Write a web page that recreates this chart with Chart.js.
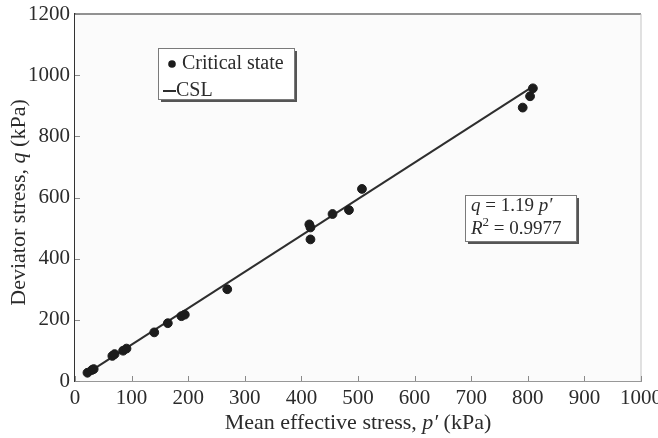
<!DOCTYPE html>
<html>
<head>
<meta charset="utf-8">
<script src="https://cdn.jsdelivr.net/npm/chart.js@4.4.1/dist/chart.umd.min.js"></script>
<style>
  html, body { margin: 0; padding: 0; background: #ffffff; }
  #wrap { width: 658px; height: 438px; position: relative; }
</style>
</head>
<body>
<div id="wrap"><canvas id="c" width="658" height="438"></canvas></div>
<script>
// Critical-state test points: mean effective stress p' and deviator stress q (kPa)
const meanStress = [22, 30, 33, 66, 70, 85, 91, 140, 164, 188, 194, 269, 414, 416, 416, 455, 484, 507, 791, 804, 809];
const deviatorStress = [27, 36, 39, 82, 88, 99, 106, 159, 189, 212, 217, 300, 512, 502, 463, 546, 559, 628, 894, 931, 957];

// Critical state line q = M p'
const cslSlope = 1.19;
const cslR2 = 0.9977;
const cslExtent = [17, 810];

const xTicks = [0, 100, 200, 300, 400, 500, 600, 700, 800, 900, 1000];
const yTicks = [0, 200, 400, 600, 800, 1000, 1200];

const seriesNames = ['Critical state', 'CSL'];

const SERIF = '"Liberation Serif", "DejaVu Serif", serif';
const INK = '#2b2b2b';

const pointData = meanStress.map((p, i) => ({ x: p, y: deviatorStress[i] }));
const lineData = cslExtent.map(p => ({ x: p, y: cslSlope * p }));

// Frame, inward tick marks, axis titles, legend and fit annotation
const decorations = {
  id: 'decorations',
  beforeDatasetsDraw(chart) {
    const { ctx, chartArea: a } = chart;
    ctx.save();
    ctx.fillStyle = '#fbfbfb';
    ctx.fillRect(a.left, a.top, a.right - a.left, a.bottom - a.top);
    ctx.restore();
  },
  afterDraw(chart) {
    const { ctx, chartArea: a, scales } = chart;
    const xs = scales.x, ys = scales.y;
    ctx.save();
    // top and right frame
    ctx.lineWidth = 1.5;
    ctx.strokeStyle = '#6e6e6e';
    ctx.beginPath(); ctx.moveTo(a.left, a.top); ctx.lineTo(a.right, a.top); ctx.stroke();
    ctx.strokeStyle = '#c4c4c4';
    ctx.lineWidth = 1;
    ctx.beginPath(); ctx.moveTo(a.right, a.top); ctx.lineTo(a.right, a.bottom); ctx.stroke();

    // inward tick marks
    ctx.strokeStyle = '#8a8a8a';
    ctx.lineWidth = 1;
    xTicks.forEach(v => {
      const px = Math.round(xs.getPixelForValue(v)) + 0.5;
      ctx.beginPath(); ctx.moveTo(px, a.bottom); ctx.lineTo(px, a.bottom - 5); ctx.stroke();
    });
    yTicks.forEach(v => {
      const py = Math.round(ys.getPixelForValue(v)) + 0.5;
      ctx.beginPath(); ctx.moveTo(a.left, py); ctx.lineTo(a.left + 5, py); ctx.stroke();
    });

    // mixed-style text helper
    const drawRuns = (runs, x, y, align) => {
      let total = 0;
      runs.forEach(r => { ctx.font = r.font; total += ctx.measureText(r.text).width; });
      let cx = align === 'center' ? x - total / 2 : x;
      runs.forEach(r => {
        ctx.font = r.font;
        ctx.fillText(r.text, cx, y + (r.dy || 0));
        cx += ctx.measureText(r.text).width;
      });
    };

    ctx.fillStyle = INK;
    ctx.textBaseline = 'middle';
    ctx.textAlign = 'left';
    const up = '22px ' + SERIF, it = 'italic 22px ' + SERIF;

    // x title
    drawRuns([
      { text: 'Mean effective stress, ', font: up },
      { text: 'p\u2032', font: it },
      { text: ' (kPa)', font: up }
    ], (a.left + a.right) / 2, 423, 'center');

    // y title (rotated)
    ctx.save();
    ctx.translate(19, (a.top + a.bottom) / 2 + 5);
    ctx.rotate(-Math.PI / 2);
    drawRuns([
      { text: 'Deviator stress, ', font: up },
      { text: 'q', font: it },
      { text: ' (kPa)', font: up }
    ], 0, 0, 'center');
    ctx.restore();

    // boxes with drop shadow
    const shadowBox = (x, y, w, h) => {
      ctx.fillStyle = '#555';
      ctx.fillRect(x + 3, y + 3, w, h);
      ctx.fillStyle = '#ffffff';
      ctx.fillRect(x, y, w, h);
      ctx.strokeStyle = '#7a7a7a';
      ctx.lineWidth = 1;
      ctx.strokeRect(x + 0.5, y + 0.5, w, h);
    };

    // legend
    shadowBox(158, 48, 136, 51);
    const ds = chart.data.datasets;
    ctx.fillStyle = ds[0].backgroundColor;
    ctx.beginPath(); ctx.arc(172, 64, 3.8, 0, Math.PI * 2); ctx.fill();
    ctx.strokeStyle = ds[1].borderColor;
    ctx.lineWidth = 2;
    ctx.beginPath(); ctx.moveTo(163, 91); ctx.lineTo(176, 91); ctx.stroke();
    ctx.fillStyle = INK;
    ctx.font = '20px ' + SERIF;
    ctx.fillText(ds[0].label, 182, 64);
    ctx.fillText(ds[1].label, 176, 91);

    // fit annotation
    shadowBox(465, 195, 111, 46);
    ctx.fillStyle = INK;
    const f19 = '19px ' + SERIF, i19 = 'italic 19px ' + SERIF;
    drawRuns([
      { text: 'q', font: i19 },
      { text: ' = ' + cslSlope.toFixed(2) + ' ', font: f19 },
      { text: 'p\u2032', font: i19 }
    ], 471, 206, 'left');
    drawRuns([
      { text: 'R', font: i19 },
      { text: '2', font: '13px ' + SERIF, dy: -6 },
      { text: ' = ' + cslR2.toFixed(4), font: f19 }
    ], 471, 229, 'left');
    ctx.restore();
  }
};

new Chart(document.getElementById('c'), {
  type: 'scatter',
  data: {
    datasets: [
      {
        label: seriesNames[0],
        data: pointData,
        backgroundColor: '#1c1c1c',
        borderColor: '#1c1c1c',
        pointRadius: 4.4,
        pointHoverRadius: 4.4,
        order: 1
      },
      {
        label: seriesNames[1],
        type: 'line',
        data: lineData,
        borderColor: '#2e2e2e',
        borderWidth: 2,
        pointRadius: 0,
        fill: false,
        order: 2
      }
    ]
  },
  options: {
    responsive: false,
    animation: false,
    devicePixelRatio: 1,
    layout: { padding: { left: 0, right: 17, top: 14, bottom: 0 } },
    plugins: { legend: { display: false }, tooltip: { enabled: false } },
    scales: {
      x: {
        type: 'linear',
        min: 0, max: 1000,
        afterBuildTicks: s => { s.ticks = xTicks.map(v => ({ value: v })); },
        afterFit: s => { s.height = 57; s.paddingLeft = 0; s.paddingRight = 0; },
        grid: { display: false, drawTicks: false },
        border: { display: true, color: '#333', width: 1.5 },
        ticks: { autoSkip: false, maxRotation: 0, padding: 5, color: INK, font: { family: SERIF, size: 21 }, callback: v => String(v) }
      },
      y: {
        type: 'linear',
        min: 0, max: 1200,
        afterBuildTicks: s => { s.ticks = yTicks.map(v => ({ value: v })); },
        afterFit: s => { s.width = 75; s.paddingTop = 0; s.paddingBottom = 0; },
        grid: { display: false, drawTicks: false },
        border: { display: true, color: '#333', width: 1.5 },
        ticks: { autoSkip: false, padding: 5, color: INK, font: { family: SERIF, size: 21 }, callback: v => String(v) }
      }
    }
  },
  plugins: [decorations]
});
</script>
</body>
</html>
